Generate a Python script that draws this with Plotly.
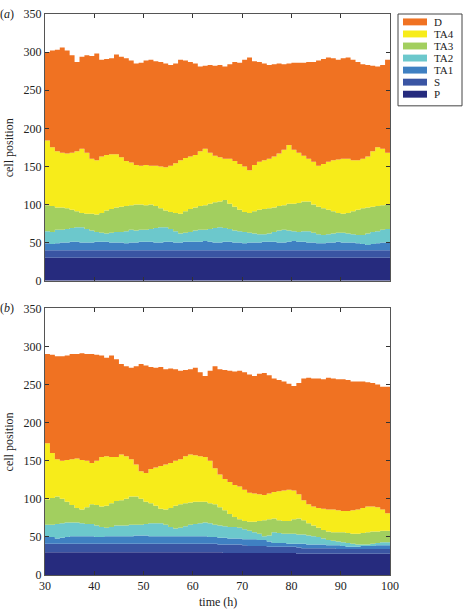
import plotly.graph_objects as go

# time axis (h)
hours = list(range(30, 101))
x_ticks = [30, 40, 50, 60, 70, 80, 90, 100]
y_ticks = [0, 50, 100, 150, 200, 250, 300, 350]

cell_types = ["P", "S", "TA1", "TA2", "TA3", "TA4", "D"]
colors = {"P": "#262B7E", "S": "#3A55A3", "TA1": "#3F80C2", "TA2": "#6CC8CC",
          "TA3": "#A2CF5F", "TA4": "#F7EC1A", "D": "#F07222"}

# ---- panel (a): top cell position of each compartment ----
a_P = [30, 30, 30, 30, 30, 30, 30, 30, 30, 30, 30, 30, 30, 30, 30, 30, 30, 30, 30, 30,
       30, 30, 30, 30, 30, 30, 30, 30, 30, 30, 30, 30, 30, 30, 30, 30, 30, 30, 30, 30,
       30, 30, 30, 30, 30, 30, 30, 30, 30, 30, 30, 30, 30, 30, 30, 30, 30, 30, 30, 30,
       30, 30, 30, 30, 30, 30, 30, 30, 30, 30, 30]
a_S = [40, 40, 40, 40, 40, 40, 40, 40, 40, 40, 40, 40, 40, 40, 40, 40, 40, 40, 40, 40,
       40, 40, 40, 40, 40, 40, 40, 40, 40, 40, 40, 40, 40, 40, 40, 40, 40, 40, 40, 40,
       40, 40, 40, 40, 40, 40, 40, 40, 40, 40, 40, 40, 40, 40, 40, 40, 40, 40, 40, 40,
       40, 40, 40, 40, 40, 40, 40, 40, 40, 40, 40]
a_TA1 = [49, 48, 49, 50, 50, 51, 51, 50, 50, 50, 51, 51, 51, 50, 50, 50, 49, 50, 50, 51,
         51, 51, 50, 50, 51, 51, 50, 50, 51, 51, 51, 51, 52, 51, 50, 50, 51, 51, 50, 50,
         49, 50, 50, 50, 51, 51, 51, 50, 50, 51, 52, 51, 51, 50, 50, 49, 49, 50, 50, 51,
         50, 50, 50, 49, 48, 47, 48, 49, 50, 50, 50]
a_TA2 = [65, 64, 67, 67, 68, 69, 70, 70, 68, 66, 64, 63, 62, 63, 64, 64, 65, 67, 66, 67,
         67, 68, 69, 70, 70, 68, 65, 62, 63, 64, 66, 67, 67, 68, 69, 70, 69, 68, 66, 65,
         64, 63, 62, 61, 61, 62, 64, 66, 67, 66, 65, 64, 65, 65, 63, 61, 60, 61, 62, 63,
         63, 62, 61, 60, 60, 62, 64, 65, 67, 68, 68]
a_TA3 = [99, 98, 96, 96, 95, 93, 91, 89, 88, 88, 87, 89, 92, 94, 96, 97, 98, 99, 100, 100,
         99, 100, 98, 95, 92, 90, 89, 88, 91, 94, 96, 98, 99, 101, 103, 104, 106, 101, 97, 93,
         90, 89, 91, 93, 94, 95, 96, 98, 99, 101, 101, 102, 104, 104, 100, 97, 95, 93, 91, 89,
         88, 89, 91, 93, 95, 96, 97, 98, 99, 100, 100]
a_TA4 = [184, 175, 170, 168, 167, 168, 170, 173, 168, 160, 158, 163, 165, 166, 166, 162, 157, 155, 152, 151,
         152, 151, 151, 150, 149, 151, 154, 158, 161, 163, 165, 170, 173, 168, 164, 162, 160, 160, 157, 153,
         150, 145, 152, 156, 158, 160, 163, 167, 172, 178, 172, 168, 164, 160, 156, 151, 153, 156, 158, 159,
         160, 160, 158, 158, 160, 163, 170, 175, 173, 168, 158]
a_D = [300, 302, 303, 306, 302, 296, 287, 294, 296, 295, 298, 290, 291, 292, 297, 294, 292, 289, 285, 286,
       289, 290, 288, 287, 285, 283, 285, 290, 289, 287, 285, 281, 282, 283, 282, 283, 281, 284, 287, 286,
       290, 293, 288, 287, 285, 283, 284, 285, 284, 285, 286, 286, 286, 287, 287, 289, 291, 293, 292, 290,
       292, 293, 290, 287, 284, 283, 282, 281, 283, 290, 290]

# ---- panel (b) ----
b_P = [30, 30, 30, 30, 30, 30, 30, 30, 30, 30, 30, 30, 30, 30, 30, 30, 30, 30, 30, 30,
       30, 30, 30, 30, 30, 30, 30, 30, 30, 30, 30, 30, 30, 30, 30, 30, 29, 29, 29, 29,
       29, 29, 29, 29, 29, 29, 29, 29, 29, 29, 29, 28, 28, 28, 28, 28, 28, 28, 28, 28,
       28, 28, 28, 28, 28, 28, 28, 28, 28, 28, 28]
b_S = [41, 41, 41, 41, 41, 41, 41, 41, 41, 41, 41, 41, 41, 41, 41, 41, 41, 41, 41, 41,
       41, 41, 41, 41, 41, 41, 41, 41, 41, 41, 41, 41, 41, 41, 41, 40, 40, 40, 40, 40,
       39, 38, 38, 38, 38, 37, 37, 37, 37, 37, 37, 36, 35, 35, 35, 35, 35, 35, 35, 34,
       34, 34, 34, 34, 34, 34, 34, 34, 34, 34, 34]
b_TA1 = [50, 50, 48, 49, 50, 51, 51, 51, 51, 51, 50, 50, 51, 51, 51, 51, 51, 51, 52, 52,
         52, 51, 51, 51, 51, 51, 51, 51, 51, 51, 51, 51, 51, 50, 50, 49, 49, 48, 48, 48,
         47, 47, 47, 46, 46, 44, 42, 42, 42, 41, 41, 41, 41, 40, 40, 40, 40, 39, 39, 39,
         38, 37, 37, 37, 38, 38, 38, 39, 39, 39, 39]
b_TA2 = [66, 66, 67, 68, 69, 69, 69, 68, 67, 67, 65, 63, 62, 63, 65, 65, 65, 66, 66, 66,
         67, 68, 68, 68, 66, 63, 61, 62, 64, 66, 67, 68, 69, 68, 66, 65, 64, 63, 63, 62,
         60, 58, 56, 54, 51, 52, 56, 55, 54, 54, 54, 53, 53, 52, 51, 50, 48, 46, 45, 44,
         43, 42, 41, 40, 40, 40, 41, 42, 43, 43, 43]
b_TA3 = [99, 101, 103, 100, 96, 92, 88, 86, 89, 93, 92, 90, 91, 94, 97, 98, 100, 103, 103, 100,
         96, 94, 91, 87, 86, 88, 91, 93, 94, 95, 96, 96, 96, 94, 93, 89, 85, 80, 76, 73,
         71, 70, 70, 71, 72, 73, 74, 72, 71, 71, 73, 74, 72, 68, 65, 62, 59, 57, 56, 56,
         56, 55, 54, 54, 55, 56, 57, 57, 58, 58, 58]
b_TA4 = [173, 160, 152, 150, 151, 152, 153, 151, 150, 147, 150, 155, 156, 155, 155, 158, 156, 152, 145, 136,
         134, 139, 141, 143, 145, 147, 150, 152, 156, 158, 157, 156, 155, 150, 140, 132, 126, 122, 118, 116,
         112, 108, 107, 106, 105, 107, 109, 110, 111, 112, 111, 106, 98, 93, 90, 88, 87, 86, 86, 85,
         84, 84, 85, 86, 88, 90, 90, 89, 86, 81, 78]
b_D = [290, 289, 287, 287, 288, 290, 290, 291, 290, 290, 289, 288, 285, 288, 283, 277, 274, 272, 274, 277,
       275, 273, 272, 273, 270, 271, 270, 268, 269, 270, 272, 266, 261, 268, 274, 270, 269, 268, 267, 268,
       266, 263, 261, 264, 265, 262, 258, 256, 254, 251, 248, 252, 258, 259, 258, 258, 257, 259, 258, 257,
       257, 256, 254, 254, 254, 253, 252, 250, 247, 247, 248]

panel_a = {"P": a_P, "S": a_S, "TA1": a_TA1, "TA2": a_TA2, "TA3": a_TA3, "TA4": a_TA4, "D": a_D}
panel_b = {"P": b_P, "S": b_S, "TA1": b_TA1, "TA2": b_TA2, "TA3": b_TA3, "TA4": b_TA4, "D": b_D}

FONT = "Liberation Serif"
fig = go.Figure()

for panel, xa, ya in [(panel_a, "x", "y"), (panel_b, "x2", "y2")]:
    for i, ct in enumerate(cell_types):
        vals = panel[ct]
        assert len(vals) == len(hours), (ct, len(vals))
        fig.add_trace(go.Scatter(
            x=hours, y=vals, mode="lines", line=dict(width=0, shape="hv", color=colors[ct]),
            fill="tozeroy" if i == 0 else "tonexty", fillcolor=colors[ct],
            xaxis=xa, yaxis=ya, showlegend=False, hoverinfo="skip"))

axis_common = dict(showline=True, linecolor="#555555", linewidth=1, mirror="ticks",
                   ticks="inside", ticklen=4, tickcolor="#333333", tickwidth=1,
                   showgrid=False, zeroline=False,
                   tickfont=dict(family=FONT, size=12, color="#222222"))

fig.update_layout(
    width=464, height=609,
    margin=dict(l=45, r=74, t=7, b=34),
    paper_bgcolor="white", plot_bgcolor="white",
    xaxis=dict(domain=[0, 1], anchor="y", range=[30, 100], tickvals=x_ticks,
               showticklabels=False, **axis_common),
    yaxis=dict(domain=[0.5246, 1], anchor="x", range=[0, 350], tickvals=y_ticks, **axis_common),
    xaxis2=dict(domain=[0, 1], anchor="y2", range=[30, 100], tickvals=x_ticks, **axis_common),
    yaxis2=dict(domain=[0, 0.4754], anchor="x2", range=[0, 350], tickvals=y_ticks, **axis_common),
    showlegend=False,
)

annotations = [
    dict(text="(<i>a</i>)", x=-0.110, y=1.0, xref="paper", yref="paper", showarrow=False,
         xanchor="center", yanchor="middle", font=dict(family=FONT, size=12, color="#222")),
    dict(text="(<i>b</i>)", x=-0.110, y=0.4754, xref="paper", yref="paper", showarrow=False,
         xanchor="center", yanchor="middle", font=dict(family=FONT, size=12, color="#222")),
    dict(text="cell position", x=-0.105, y=0.762, xref="paper", yref="paper", showarrow=False,
         textangle=-90, xanchor="center", yanchor="middle", font=dict(family=FONT, size=12, color="#222")),
    dict(text="cell position", x=-0.105, y=0.2377, xref="paper", yref="paper", showarrow=False,
         textangle=-90, xanchor="center", yanchor="middle", font=dict(family=FONT, size=12, color="#222")),
    dict(text="time (h)", x=0.5, y=-0.049, xref="paper", yref="paper", showarrow=False,
         xanchor="center", yanchor="middle", font=dict(family=FONT, size=12, color="#222")),
]

# legend drawn as boxes + text (D at top, P at bottom)
shapes = [dict(type="rect", xref="paper", yref="paper", x0=1.0232, x1=1.2087, y0=0.8363, y1=1.0,
               line=dict(color="#444444", width=1), fillcolor="white")]
px_w, px_h = 345.0, 568.0
for k, ct in enumerate(reversed(cell_types)):
    cy = 15 + k * 12.2
    yp = (575 - cy) / px_h
    shapes.append(dict(type="rect", xref="paper", yref="paper",
                       x0=(403 - 45) / px_w, x1=(427 - 45) / px_w,
                       y0=yp - 3.5 / px_h, y1=yp + 3.5 / px_h,
                       line=dict(width=0), fillcolor=colors[ct]))
    annotations.append(dict(text=ct, x=(432 - 45) / px_w, y=yp, xref="paper", yref="paper",
                            showarrow=False, xanchor="left", yanchor="middle",
                            font=dict(family=FONT, size=11, color="#222")))

fig.update_layout(annotations=annotations, shapes=shapes)
fig.write_html("out.html", config={"displayModeBar": False},
               post_script="document.body.style.margin='0';document.body.style.padding='0';")
